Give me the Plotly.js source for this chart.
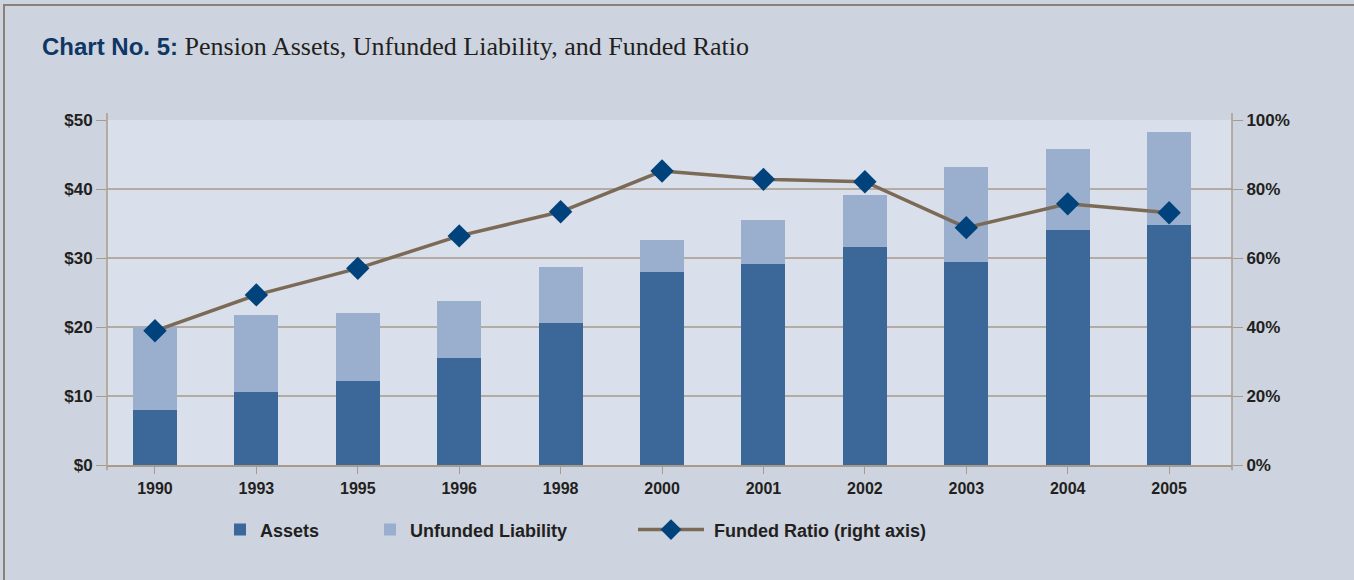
<!DOCTYPE html>
<html>
<head>
<meta charset="utf-8">
<script src="https://cdn.plot.ly/plotly-3.0.1.min.js"></script>
<style>
  html, body { margin: 0; padding: 0; background: #cdd4df; }
  #wrap { position: relative; width: 1354px; height: 580px; overflow: hidden; }
  #chart { position: absolute; left: 0; top: 0; width: 1354px; height: 580px; }
  #frame { position: absolute; left: 3px; top: 4px; width: 1349px; height: 574px;
           border-left: 2px solid #8b8179; border-top: 2px solid #8b8179;
           border-right: 2px solid #a3a2a6; border-bottom: 2px solid #a3a2a6;
           pointer-events: none; }
</style>
</head>
<body>
<div id="wrap"><div id="chart"></div><div id="frame"></div></div>
<script>
// Data
const years = ['1990', '1993', '1995', '1996', '1998', '2000', '2001', '2002', '2003', '2004', '2005'];
const assets = [8.0, 10.6, 12.2, 15.5, 20.6, 28.0, 29.1, 31.6, 29.4, 34.1, 34.8];          // $ billions
const unfunded = [12.0, 11.1, 9.8, 8.3, 8.1, 4.6, 6.4, 7.5, 13.8, 11.7, 13.5];            // $ billions
const fundedRatio = [38.9, 49.3, 57.0, 66.4, 73.4, 85.2, 82.8, 82.1, 68.8, 75.7, 73.1];  // percent
const leftTicks = [0, 10, 20, 30, 40, 50];
const rightTicks = [0, 20, 40, 60, 80, 100];

const axisCol = '#a89b8a';
const gridCol = '#b4aba2';
const textCol = '#231f20';
const tickFont = {family: 'Liberation Sans, Arial, sans-serif', size: 17, color: textCol, weight: 'bold'};
const legFont = {family: 'Liberation Sans, Arial, sans-serif', size: 18, color: textCol, weight: 'bold'};

const traces = [
  {type: 'bar', name: 'Assets', x: years, y: assets, marker: {color: '#3b6899'},
   hoverinfo: 'x+y', legend: 'legend'},
  {type: 'bar', name: 'Unfunded Liability', x: years, y: unfunded, marker: {color: '#9aaecd'},
   hoverinfo: 'x+y', legend: 'legend2'},
  {type: 'scatter', mode: 'lines+markers', name: '\u00a0Funded Ratio (right axis)', x: years, y: fundedRatio,
   yaxis: 'y2', line: {color: '#7b6a55', width: 3.5},
   marker: {symbol: 'diamond', size: 18, color: '#00437c'}, cliponaxis: false, legend: 'legend3'}
];

function leg(px, extra) {
  return Object.assign({
    orientation: 'h', x: (px - 107) / 1125, xanchor: 'left', y: -0.188, yanchor: 'middle',
    bgcolor: 'rgba(0,0,0,0)', borderwidth: 0, font: legFont
  }, extra || {});
}

const layout = {
  width: 1354, height: 580,
  paper_bgcolor: '#cdd4df', plot_bgcolor: '#dadfec',
  margin: {l: 107, r: 122, t: 120, b: 115},
  barmode: 'stack', bargap: 0.566,
  title: {
    text: '<b><span style="font-family:\'Liberation Sans\',Arial,sans-serif;font-size:24px;color:#0f3765">Chart No. 5:</span></b> Pension Assets, Unfunded Liability, and Funded Ratio',
    font: {family: 'Liberation Serif, Times New Roman, serif', size: 26, color: textCol},
    x: 42 / 1354, xref: 'container', xanchor: 'left',
    y: 1 - 46 / 580, yref: 'container', yanchor: 'middle'
  },
  xaxis: {
    type: 'category', range: [-0.473, 10.62], showgrid: false, zeroline: false,
    showline: true, linecolor: axisCol, linewidth: 1.5,
    ticks: 'outside', ticklen: 7, tickcolor: axisCol, tickwidth: 1.2,
    tickfont: {family: 'Liberation Sans, Arial, sans-serif', size: 16, color: textCol, weight: 'bold'},
    ticklabelstandoff: 1
  },
  yaxis: {
    range: [0, 50], tickvals: leftTicks, ticktext: leftTicks.map(v => '$' + v),
    showgrid: true, gridcolor: gridCol, gridwidth: 2, zeroline: false, showline: false,
    ticks: 'outside', ticklen: 10, tickcolor: axisCol, tickwidth: 1.2,
    tickfont: tickFont
  },
  yaxis2: {
    overlaying: 'y', side: 'right', range: [0, 100],
    tickvals: rightTicks, ticktext: rightTicks.map(v => v + '%'),
    showgrid: false, zeroline: false, showline: false,
    ticks: 'outside', ticklen: 10, tickcolor: axisCol, tickwidth: 1.2,
    tickfont: tickFont
  },
  showlegend: true,
  legend: leg(220),
  legend2: leg(370),
  legend3: leg(633, {itemwidth: 66}),
  shapes: [
    {type: 'line', xref: 'paper', yref: 'paper', x0: 0, x1: 0, y0: -0.015, y1: 1.02,
     line: {color: axisCol, width: 1.5}},
    {type: 'line', xref: 'paper', yref: 'paper', x0: 1, x1: 1, y0: -0.015, y1: 1.02,
     line: {color: axisCol, width: 1.5}}
  ],
  hovermode: 'closest'
};

Plotly.newPlot('chart', traces, layout, {displayModeBar: false});
</script>
</body>
</html>
